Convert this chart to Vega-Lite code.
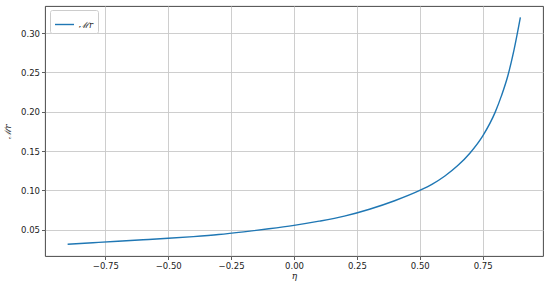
{
  "$schema": "https://vega.github.io/schema/vega-lite/v6.json",
  "width": 498,
  "height": 250,
  "autosize": "none",
  "padding": {"left": 45, "top": 6, "right": 7, "bottom": 29},
  "config": {
    "font": "DejaVu Sans",
    "view": {"stroke": "#333", "strokeWidth": 0.9},
    "axis": {
      "domain": false,
      "gridColor": "#c8c8c8",
      "gridWidth": 0.9,
      "tickColor": "#333",
      "tickSize": 3.5,
      "tickWidth": 0.8,
      "labelFont": "DejaVu Sans",
      "labelFontSize": 8.5,
      "labelColor": "#222",
      "labelPadding": 2,
      "titleFont": "DejaVu Serif",
      "titleFontWeight": "normal",
      "titleFontStyle": "italic",
      "titleFontSize": 9,
      "titleColor": "#222"
    }
  },
  "data": {
    "values": [
      {"eta": -0.9, "mr": 0.0315, "s": "ℳr"},
      {"eta": -0.8, "mr": 0.0334, "s": "ℳr"},
      {"eta": -0.7, "mr": 0.0353, "s": "ℳr"},
      {"eta": -0.6, "mr": 0.0371, "s": "ℳr"},
      {"eta": -0.5, "mr": 0.0390, "s": "ℳr"},
      {"eta": -0.4, "mr": 0.0412, "s": "ℳr"},
      {"eta": -0.3, "mr": 0.0438, "s": "ℳr"},
      {"eta": -0.2, "mr": 0.0472, "s": "ℳr"},
      {"eta": -0.1, "mr": 0.0511, "s": "ℳr"},
      {"eta": 0.0, "mr": 0.0555, "s": "ℳr"},
      {"eta": 0.1, "mr": 0.0608, "s": "ℳr"},
      {"eta": 0.2, "mr": 0.0672, "s": "ℳr"},
      {"eta": 0.3, "mr": 0.0760, "s": "ℳr"},
      {"eta": 0.4, "mr": 0.0868, "s": "ℳr"},
      {"eta": 0.5, "mr": 0.0999, "s": "ℳr"},
      {"eta": 0.55, "mr": 0.1080, "s": "ℳr"},
      {"eta": 0.6, "mr": 0.1183, "s": "ℳr"},
      {"eta": 0.65, "mr": 0.1312, "s": "ℳr"},
      {"eta": 0.7, "mr": 0.1476, "s": "ℳr"},
      {"eta": 0.75, "mr": 0.1690, "s": "ℳr"},
      {"eta": 0.8, "mr": 0.1995, "s": "ℳr"},
      {"eta": 0.825, "mr": 0.2205, "s": "ℳr"},
      {"eta": 0.85, "mr": 0.2455, "s": "ℳr"},
      {"eta": 0.875, "mr": 0.2790, "s": "ℳr"},
      {"eta": 0.9, "mr": 0.3200, "s": "ℳr"}
    ]
  },
  "mark": {"type": "line", "interpolate": "monotone", "strokeWidth": 1.4},
  "encoding": {
    "x": {
      "field": "eta",
      "type": "quantitative",
      "scale": {"domain": [-0.99, 0.99], "nice": false, "zero": false},
      "axis": {
        "title": "η",
        "values": [-0.75, -0.5, -0.25, 0, 0.25, 0.5, 0.75],
        "format": ".2f",
        "titlePadding": 1
      }
    },
    "y": {
      "field": "mr",
      "type": "quantitative",
      "scale": {"domain": [0.0165, 0.3345], "nice": false, "zero": false},
      "axis": {
        "title": "ℳr",
        "values": [0.05, 0.1, 0.15, 0.2, 0.25, 0.3],
        "format": ".2f",
        "titlePadding": 8
      }
    },
    "color": {
      "field": "s",
      "type": "nominal",
      "scale": {"range": ["#1f77b4"]},
      "legend": {
        "title": null,
        "orient": "none",
        "legendX": 5,
        "legendY": 4,
        "padding": 4,
        "fillColor": "white",
        "strokeColor": "#ccc",
        "cornerRadius": 2,
        "symbolType": "stroke",
        "symbolSize": 360,
        "symbolStrokeWidth": 1.4,
        "labelFont": "DejaVu Serif",
        "labelFontStyle": "italic",
        "labelFontSize": 8.5,
        "labelColor": "#222"
      }
    }
  }
}
